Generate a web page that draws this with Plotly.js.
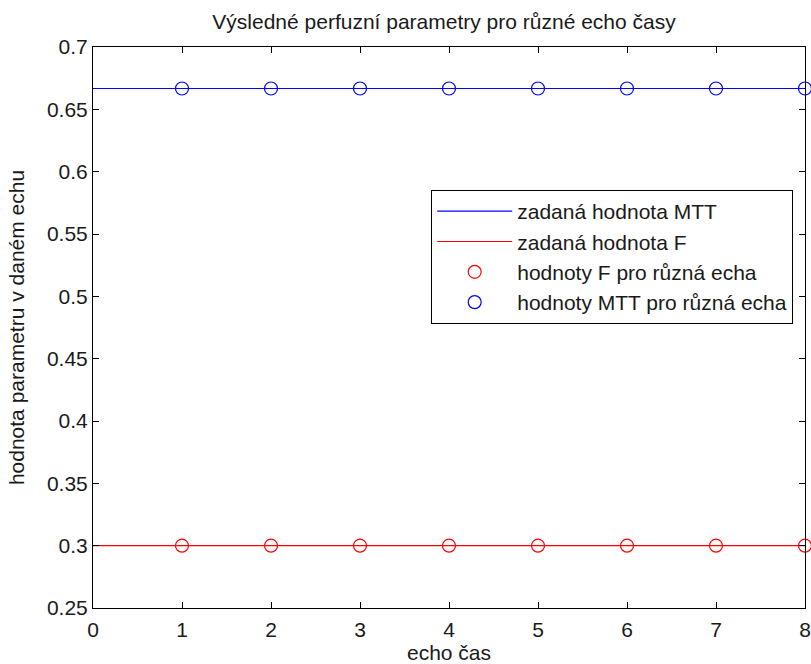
<!DOCTYPE html>
<html>
<head>
<meta charset="utf-8">
<script src="https://cdn.plot.ly/plotly-3.0.1.min.js"></script>
<style>html,body{margin:0;padding:0;background:#fff;}#chart{width:811px;height:664px;}</style>
</head>
<body>
<div id="chart"></div>
<script>
var lineX = [0, 8];
var mttLine = [0.6667, 0.6667];
var fLine = [0.3, 0.3];
var echoTimes = [1, 2, 3, 4, 5, 6, 7, 8];
var fValues = [0.3, 0.3, 0.3, 0.3, 0.3, 0.3, 0.3, 0.3];
var mttValues = [0.6667, 0.6667, 0.6667, 0.6667, 0.6667, 0.6667, 0.6667, 0.6667];
var yTicks = [0.25, 0.3, 0.35, 0.4, 0.45, 0.5, 0.55, 0.6, 0.65, 0.7];
var yTickText = ["0.25", "0.3", "0.35", "0.4", "0.45", "0.5", "0.55", "0.6", "0.65", "0.7"];
var xTicks = [0, 1, 2, 3, 4, 5, 6, 7, 8];

var FONT = 'Liberation Sans, Arial, sans-serif';
var TXT = '#1a1a1a';

var traces = [
  {x: lineX, y: mttLine, mode: 'lines', name: 'zadaná hodnota MTT', legendgroup: 'a', line: {color: '#0000ff', width: 1.2}},
  {x: lineX, y: fLine, mode: 'lines', name: 'zadaná hodnota F', legendgroup: 'b', line: {color: '#ff0000', width: 1.2}},
  {x: echoTimes, y: fValues, mode: 'markers', name: 'hodnoty F pro různá echa', legendgroup: 'c', cliponaxis: false,
   marker: {symbol: 'circle-open', size: 13, color: '#ff0000', line: {width: 1.2, color: '#ff0000'}}},
  {x: echoTimes, y: mttValues, mode: 'markers', name: 'hodnoty MTT pro různá echa', legendgroup: 'd', cliponaxis: false,
   marker: {symbol: 'circle-open', size: 13, color: '#0000ff', line: {width: 1.2, color: '#0000ff'}}}
];

var axisCommon = {
  showgrid: false, zeroline: false, showline: true, mirror: 'ticks',
  linecolor: '#000', linewidth: 1, ticks: 'inside', ticklen: 6, tickcolor: '#000',
  tickfont: {family: FONT, size: 21, color: TXT}
};

var layout = {
  width: 811, height: 664,
  margin: {l: 93, r: 6, t: 47, b: 56},
  paper_bgcolor: '#fff', plot_bgcolor: '#fff',
  font: {family: FONT, size: 21, color: TXT},
  title: {text: 'Výsledné perfuzní parametry pro různé echo časy', x: 0.5475, xanchor: 'center', y: 0.967, yanchor: 'middle',
          font: {size: 21, color: TXT}},
  xaxis: Object.assign({}, axisCommon, {range: [0, 8], tickvals: xTicks, ticklabelstandoff: 3,
          title: {text: 'echo čas', standoff: 6, font: {size: 21}}}),
  yaxis: Object.assign({}, axisCommon, {range: [0.25, 0.7], tickvals: yTicks, ticktext: yTickText,
          title: {text: 'hodnota parametru v daném echu', standoff: 16, font: {size: 21}}}),
  showlegend: true,
  legend: {x: 0.475, y: 0.745, xanchor: 'left', yanchor: 'top', bgcolor: '#fff', bordercolor: '#000', borderwidth: 1,
           font: {size: 21, color: TXT}, itemwidth: 75, tracegroupgap: 0}
};

Plotly.newPlot('chart', traces, layout, {displayModeBar: false, staticPlot: true});
</script>
</body>
</html>
